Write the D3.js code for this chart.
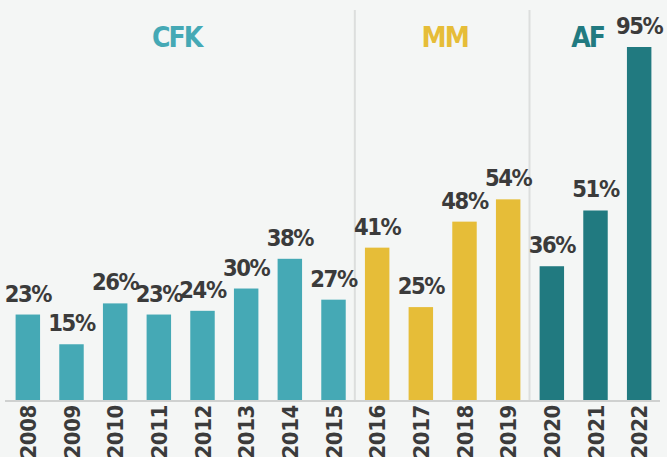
<!DOCTYPE html>
<html>
<head>
<meta charset="utf-8">
<script src="https://cdn.jsdelivr.net/npm/d3@7"></script>
<style>
  body { margin: 0; background: #f4f6f5; }
  svg { display: block; }
  .val { font-family: "DejaVu Sans Condensed", "DejaVu Sans", sans-serif; font-weight: bold; fill: #3b3b3b; }
  .yr { font-family: "DejaVu Sans Condensed", "DejaVu Sans", sans-serif; font-weight: bold; fill: #3b3b3b; }
  .grp { font-family: "DejaVu Sans Condensed", "DejaVu Sans", sans-serif; font-weight: bold; }
</style>
</head>
<body>
<div id="chart"></div>
<script>
// data
var years = ["2008", "2009", "2010", "2011", "2012", "2013", "2014", "2015",
             "2016", "2017", "2018", "2019", "2020", "2021", "2022"];
var values = [23, 15, 26, 23, 24, 30, 38, 27, 41, 25, 48, 54, 36, 51, 95];
var groupOf = ["CFK", "CFK", "CFK", "CFK", "CFK", "CFK", "CFK", "CFK",
               "MM", "MM", "MM", "MM", "AF", "AF", "AF"];
var groups = ["CFK", "MM", "AF"];
var groupColors = ["#45a9b5", "#e6bd38", "#217a80"];

var width = 667, height = 457;
var baseY = 400;

var svg = d3.select("#chart").append("svg")
    .attr("width", width)
    .attr("height", height);

svg.append("rect").attr("width", width).attr("height", height).attr("fill", "#f4f6f5");

// scales
var x = d3.scaleBand()
    .domain(years)
    .range([6, 661])
    .paddingInner(0.44)
    .paddingOuter(0.22);

var y = d3.scaleLinear()
    .domain([0, 95])
    .range([baseY, 47]);

var color = d3.scaleOrdinal().domain(groups).range(groupColors);

// dividers between periods
var step = x.step();
var dividers = [years[8], years[12]];
svg.selectAll("line.div")
    .data(dividers)
    .enter().append("line")
    .attr("class", "div")
    .attr("x1", function(d) { return x(d) - step * x.paddingInner() / 2 - 0.5; })
    .attr("x2", function(d) { return x(d) - step * x.paddingInner() / 2 - 0.5; })
    .attr("y1", 10)
    .attr("y2", baseY)
    .attr("stroke", "#dcdedd")
    .attr("stroke-width", 2);

// bars
svg.selectAll("rect.bar")
    .data(values)
    .enter().append("rect")
    .attr("class", "bar")
    .attr("x", function(d, i) { return x(years[i]); })
    .attr("width", x.bandwidth())
    .attr("y", function(d) { return y(d); })
    .attr("height", function(d) { return baseY - y(d); })
    .attr("fill", function(d, i) { return color(groupOf[i]); });

// value labels
svg.selectAll("text.val")
    .data(values)
    .enter().append("text")
    .attr("class", "val")
    .attr("x", function(d, i) { return x(years[i]) + x.bandwidth() / 2; })
    .attr("y", function(d) { return y(d) - 13; })
    .attr("text-anchor", "middle")
    .attr("font-size", 23.5)
    .attr("letter-spacing", -1.4)
    .text(function(d) { return d + "%"; });

// baseline
svg.append("line")
    .attr("x1", 5).attr("x2", 660)
    .attr("y1", baseY + 1).attr("y2", baseY + 1)
    .attr("stroke", "#cfd1d0")
    .attr("stroke-width", 2);

// year labels
svg.selectAll("text.yr")
    .data(years)
    .enter().append("text")
    .attr("class", "yr")
    .attr("transform", function(d) {
        return "translate(" + (x(d) + x.bandwidth() / 2 + 8) + "," + (baseY + 5) + ") rotate(-90)";
    })
    .attr("text-anchor", "end")
    .attr("font-size", 22)
    .attr("letter-spacing", -0.4)
    .text(function(d) { return d; });

// group titles
var groupDx = [-4, 2, -8];
svg.selectAll("text.grp")
    .data(groups)
    .enter().append("text")
    .attr("class", "grp")
    .attr("x", function(g, gi) {
        var ys = years.filter(function(yr, i) { return groupOf[i] === g; });
        return (x(ys[0]) + x(ys[ys.length - 1]) + x.bandwidth()) / 2 + groupDx[gi];
    })
    .attr("y", 47)
    .attr("text-anchor", "middle")
    .attr("font-size", 28)
    .attr("letter-spacing", -2)
    .attr("fill", function(g) { return color(g); })
    .text(function(g) { return g; });
</script>
</body>
</html>
